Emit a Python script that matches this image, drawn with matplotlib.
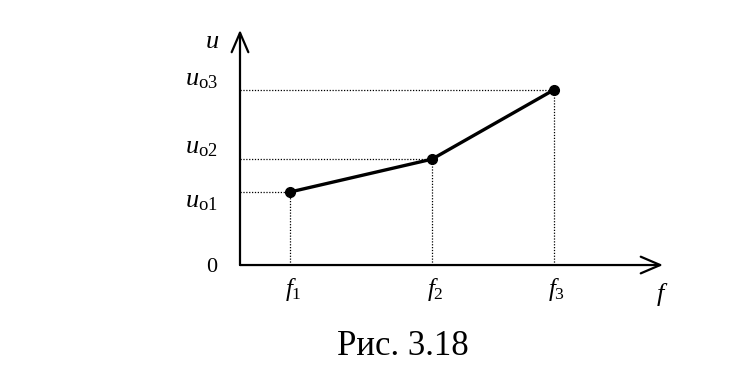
import matplotlib
matplotlib.use("Agg")
import matplotlib.pyplot as plt

plt.rcParams['font.family'] = 'Liberation Serif'
plt.rcParams['mathtext.fontset'] = 'custom'
plt.rcParams['mathtext.it'] = 'Liberation Serif:italic'
plt.rcParams['mathtext.rm'] = 'Liberation Serif'

# data (abstract units, origin at 0)
f_vals = [1.0, 3.84, 6.28]
u_vals = [1.0, 1.45, 2.4]
f_labels = [r'$f_{\mathrm{1}}$', r'$f_{\mathrm{2}}$', r'$f_{\mathrm{3}}$']
u_labels = [r'$u_{\mathrm{o1}}$', r'$u_{\mathrm{o2}}$', r'$u_{\mathrm{o3}}$']
caption = 'Рис. 3.18'

# where the u-labels sit beside the y axis
u_label_y = [0.86, 1.60, 2.53]

fig = plt.figure(figsize=(7.36, 3.76), dpi=100)
ax = fig.add_axes([0, 0, 1, 1])
ax.set_xlim(-4.8, 9.92)
ax.set_ylim(-1.52, 3.63)
ax.axis('off')

# axes with open arrows
arr = dict(arrowstyle='->,head_length=0.7,head_width=0.3', lw=1.6,
           color='black', mutation_scale=20, shrinkA=0, shrinkB=0)
ax.annotate('', xy=(8.46, 0), xytext=(0, 0), arrowprops=arr)
ax.annotate('', xy=(0, 3.22), xytext=(0, 0), arrowprops=arr)

# dotted projections
for f, u in zip(f_vals, u_vals):
    ax.plot([0, f], [u, u], color='black', lw=0.9, ls=(0, (1, 1.3)))
    ax.plot([f, f], [0, u], color='black', lw=0.9, ls=(0, (1, 1.3)))

# curve
ax.plot(f_vals, u_vals, color='black', lw=2.4, marker='o', ms=7)

# labels
for f, lab in zip(f_vals, f_labels):
    ax.text(f + 0.06, -0.34, lab, fontsize=18, ha='center', va='center')
for y, lab in zip(u_label_y, u_labels):
    ax.text(-0.78, y, lab, fontsize=19, ha='center', va='center')
ax.text(-0.56, 3.05, r'$u$', fontsize=19, ha='center', va='center')
ax.text(-0.56, -0.04, '0', fontsize=16, ha='center', va='center')
ax.text(8.44, -0.41, r'$f$', fontsize=19, ha='center', va='center')
ax.text(3.26, -1.12, caption, fontsize=25, ha='center', va='center')

fig.savefig('out.png', dpi=100)
